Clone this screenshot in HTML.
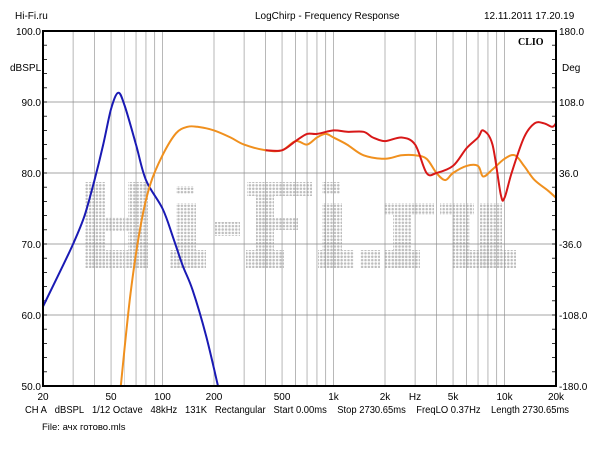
<!DOCTYPE html>
<html><head><meta charset="utf-8"><style>
body{margin:0;background:#fff;width:600px;height:450px;overflow:hidden}
svg{display:block;font-family:"Liberation Sans",sans-serif}
</style></head><body>
<svg id="s" width="600" height="450" xmlns="http://www.w3.org/2000/svg">
<defs><pattern id="dp" width="3.4" height="3.4" patternUnits="userSpaceOnUse"><circle cx="1.7" cy="1.7" r="1.25" fill="#bdbdbd"/></pattern></defs>
<rect width="600" height="450" fill="#fff"/>
<g id="wm" fill="url(#dp)">
<rect x="85" y="182" width="20" height="86"/><rect x="105" y="217" width="25" height="14"/><rect x="128" y="182" width="20" height="86"/>
<rect x="90" y="250" width="58" height="18"/>
<rect x="176" y="186" width="18" height="8"/><rect x="176" y="203" width="20" height="65"/><rect x="170" y="250" width="36" height="18"/>
<rect x="215" y="222" width="25" height="14"/>
<rect x="247" y="182" width="65" height="14"/><rect x="256" y="196" width="18" height="72"/><rect x="256" y="218" width="42" height="12"/><rect x="246" y="250" width="38" height="18"/>
<rect x="322" y="182" width="18" height="12"/><rect x="322" y="203" width="20" height="65"/><rect x="318" y="250" width="36" height="18"/>
<rect x="360" y="250" width="20" height="18"/>
<rect x="384" y="203" width="50" height="12"/><rect x="393" y="215" width="18" height="53"/><rect x="384" y="250" width="36" height="18"/>
<rect x="440" y="203" width="34" height="12"/><rect x="452" y="215" width="18" height="53"/><rect x="462" y="250" width="30" height="18"/>
<rect x="480" y="203" width="22" height="65"/><rect x="480" y="250" width="36" height="18"/>
</g>
<g id="grid"></g>
<g font-size="10" fill="#000">
<text x="15" y="19">Hi-Fi.ru</text>
<text x="255" y="19">LogChirp - Frequency Response</text>
<text x="484" y="19">12.11.2011 17.20.19</text>
<text x="518" y="45" font-family="Liberation Serif" font-weight="bold" font-size="10">CLIO</text>
<text x="10" y="71">dBSPL</text>
<text x="562" y="71">Deg</text>
<text x="25" y="413" textLength="544" lengthAdjust="spacingAndGlyphs">CH A&#160;&#160;&#160;dBSPL&#160;&#160;&#160;1/12 Octave&#160;&#160;&#160;48kHz&#160;&#160;&#160;131K&#160;&#160;&#160;Rectangular&#160;&#160;&#160;Start 0.00ms&#160;&#160;&#160;&#160;Stop 2730.65ms&#160;&#160;&#160;&#160;FreqLO 0.37Hz&#160;&#160;&#160;&#160;Length 2730.65ms</text>
<text x="42" y="430" font-size="9.5">File: ачх готово.mls</text>
</g>
<g id="lab" font-size="10" fill="#000"></g>
<g id="curves" fill="none" stroke-width="2" stroke-linejoin="round"></g>
<rect x="43" y="31" width="513" height="355" fill="none" stroke="#000" stroke-width="2"/>
</svg>
<script>
const L=43,R=556,T=31,B=386;
const X=f=>L+(Math.log10(f)-Math.log10(20))*171;
const Y=d=>T+(100-d)*7.1;
const NS="http://www.w3.org/2000/svg";
function el(p,t,a,txt){const e=document.createElementNS(NS,t);for(const k in a)e.setAttribute(k,a[k]);if(txt)e.textContent=txt;document.getElementById(p).appendChild(e);}
for(let dec of [10,100,1000,10000])for(let m=1;m<10;m++){const f=dec*m;if(f<=20||f>=20000)continue;
 const x=X(f);el('grid','line',{x1:x,x2:x,y1:T,y2:B,stroke:(m==6&&dec==10)?'#c8c8c8':'#999','stroke-width':0.7});}
for(let d=60;d<=90;d+=10)el('grid','line',{x1:L,x2:R,y1:Y(d),y2:Y(d),stroke:'#888','stroke-width':0.8});
for(let d=50;d<=100;d+=2){el('grid','line',{x1:L,x2:L+4,y1:Y(d),y2:Y(d),stroke:'#000','stroke-width':0.8});el('grid','line',{x1:R-4,x2:R,y1:Y(d),y2:Y(d),stroke:'#000','stroke-width':0.8});}
const yl=[[100,'100.0','180.0'],[90,'90.0','108.0'],[80,'80.0','36.0'],[70,'70.0','-36.0'],[60,'60.0','-108.0'],[50,'50.0','-180.0']];
yl.forEach(([d,a,b])=>{el('lab','text',{x:41,y:Y(d)+4,'text-anchor':'end'},a);el('lab','text',{x:559,y:Y(d)+4},b);});
[[20,'20'],[50,'50'],[100,'100'],[200,'200'],[500,'500'],[1000,'1k'],[2000,'2k'],[5000,'5k'],[10000,'10k'],[20000,'20k']].forEach(([f,t])=>el('lab','text',{x:X(f),y:400,'text-anchor':'middle'},t));
el('lab','text',{x:415,y:400,'text-anchor':'middle'},'Hz');
function path(pts,c){const P=pts.map(p=>[X(p[0]),Y(p[1])]);let d='M'+P[0][0].toFixed(1)+','+P[0][1].toFixed(1);
 for(let i=0;i<P.length-1;i++){const p0=P[Math.max(0,i-1)],p1=P[i],p2=P[i+1],p3=P[Math.min(P.length-1,i+2)];
  const c1=[p1[0]+(p2[0]-p0[0])/6,p1[1]+(p2[1]-p0[1])/6],c2=[p2[0]-(p3[0]-p1[0])/6,p2[1]-(p3[1]-p1[1])/6];
  d+='C'+c1.map(v=>v.toFixed(1))+' '+c2.map(v=>v.toFixed(1))+' '+p2.map(v=>v.toFixed(1));}
 el('curves','path',{d,stroke:c});}
path([[20,61.2],[25,66],[30,70],[35,74],[40,79],[45,84],[50,89],[55,91.3],[60,89.5],[70,84],[80,79],[100,75],[115,71],[131,67],[150,63.5],[180,57],[211,50]],'#1a1ab4');
const base=[[57,50],[65,63],[75,73],[85,78.5],[100,82.5],[120,85.6],[140,86.5],[160,86.5],[200,86],[250,85],[300,84],[400,83.2],[500,83.2]];
path(base.concat([[600,84.5],[700,84],[800,85],[900,85.5],[1000,85],[1200,84],[1500,82.5],[2000,82],[2500,82.5],[3000,82.5],[3500,82],[4000,80],[4500,79],[5000,80],[6000,81],[7000,81],[7500,79.5],[8500,80.5],[10000,82],[11500,82.5],[13000,81],[15000,79],[18000,77.5],[20000,76.5]]),'#f0901e');
path(base.slice(11).concat([[600,84.5],[700,85.5],[800,85.5],[1000,86],[1200,85.8],[1500,85.8],[1700,85],[2000,84.5],[2500,85],[3000,84],[3500,80],[4000,80],[5000,81],[6000,83.5],[7000,85],[7500,86],[8500,84],[9500,77],[10000,76.5],[11000,80],[13000,85],[15000,87],[17000,87],[19000,86.5],[20000,87]]),'#d81818');
</script>
</body></html>
